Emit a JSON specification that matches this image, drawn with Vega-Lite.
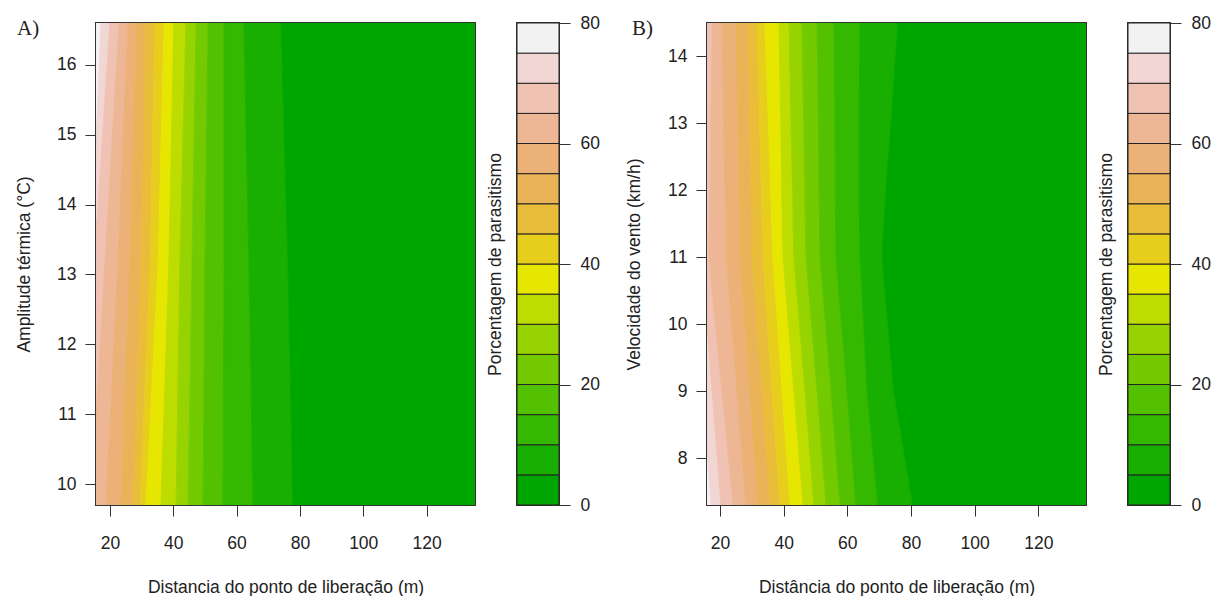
{
  "$schema": "https://vega.github.io/schema/vega-lite/v6.json",
  "autosize": {"type": "pad"},
  "padding": {"left": 14, "top": 13, "right": 5, "bottom": 2},
  "background": "white",
  "bounds": "flush",
  "spacing": 42,
  "config": {
    "font": "Liberation Sans",
    "view": {"stroke": "#333", "strokeWidth": 2},
    "axis": {
      "labelFont": "Liberation Sans", "titleFont": "Liberation Sans",
      "labelFontSize": 17.5, "titleFontSize": 17.5, "titleFontWeight": "normal",
      "labelColor": "#222", "titleColor": "#222", "tickColor": "#333",
      "tickSize": 11, "tickWidth": 1, "domain": false, "grid": false
    },
    "title": {"font": "Liberation Serif", "fontSize": 21, "fontWeight": "normal", "color": "#222"}
  },
  "datasets": {
    "bandsA": [
      {"y":16.6,"b":75,"l":-50,"r":17.2},{"y":16.6,"b":70,"l":17.2,"r":20.0},{"y":16.6,"b":65,"l":20.0,"r":22.9},{"y":16.6,"b":60,"l":22.9,"r":25.7},
      {"y":16.6,"b":55,"l":25.7,"r":28.5},{"y":16.6,"b":50,"l":28.5,"r":31.4},{"y":16.6,"b":45,"l":31.4,"r":34.2},{"y":16.6,"b":40,"l":34.2,"r":37.1},
      {"y":16.6,"b":35,"l":37.1,"r":40.2},{"y":16.6,"b":30,"l":40.2,"r":44.0},{"y":16.6,"b":25,"l":44.0,"r":47.2},{"y":16.6,"b":20,"l":47.2,"r":51.0},
      {"y":16.6,"b":15,"l":51.0,"r":56.0},{"y":16.6,"b":10,"l":56.0,"r":62.3},{"y":16.6,"b":5,"l":62.3,"r":74.0},{"y":16.6,"b":0,"l":74.0,"r":300},
      {"y":13.15,"b":75,"l":-50,"r":14.0},{"y":13.15,"b":70,"l":14.0,"r":15.0},{"y":13.15,"b":65,"l":15.0,"r":18.4},{"y":13.15,"b":60,"l":18.4,"r":22.5},
      {"y":13.15,"b":55,"l":22.5,"r":26.3},{"y":13.15,"b":50,"l":26.3,"r":29.8},{"y":13.15,"b":45,"l":29.8,"r":32.7},{"y":13.15,"b":40,"l":32.7,"r":35.2},
      {"y":13.15,"b":35,"l":35.2,"r":38.6},{"y":13.15,"b":30,"l":38.6,"r":42.1},{"y":13.15,"b":25,"l":42.1,"r":45.9},{"y":13.15,"b":20,"l":45.9,"r":50.0},
      {"y":13.15,"b":15,"l":50.0,"r":56.0},{"y":13.15,"b":10,"l":56.0,"r":63.9},{"y":13.15,"b":5,"l":63.9,"r":76.2},{"y":13.15,"b":0,"l":76.2,"r":300},
      {"y":9.7,"b":75,"l":-50,"r":8},{"y":9.7,"b":70,"l":8,"r":11},{"y":9.7,"b":65,"l":11,"r":14},{"y":9.7,"b":60,"l":14,"r":18.8},
      {"y":9.7,"b":55,"l":18.8,"r":23.5},{"y":9.7,"b":50,"l":23.5,"r":27.3},{"y":9.7,"b":45,"l":27.3,"r":29.5},{"y":9.7,"b":40,"l":29.5,"r":31.4},
      {"y":9.7,"b":35,"l":31.4,"r":36.1},{"y":9.7,"b":30,"l":36.1,"r":40.9},{"y":9.7,"b":25,"l":40.9,"r":44.7},{"y":9.7,"b":20,"l":44.7,"r":49.4},
      {"y":9.7,"b":15,"l":49.4,"r":55.7},{"y":9.7,"b":10,"l":55.7,"r":65.2},{"y":9.7,"b":5,"l":65.2,"r":77.8},{"y":9.7,"b":0,"l":77.8,"r":300}
    ],
    "bandsB": [
      {"y":14.5,"b":75,"l":-50,"r":10},{"y":14.5,"b":70,"l":10,"r":13.1},{"y":14.5,"b":65,"l":13.1,"r":17.5},{"y":14.5,"b":60,"l":17.5,"r":20.6},
      {"y":14.5,"b":55,"l":20.6,"r":25.0},{"y":14.5,"b":50,"l":25.0,"r":28.8},{"y":14.5,"b":45,"l":28.8,"r":31.6},{"y":14.5,"b":40,"l":31.6,"r":34.1},
      {"y":14.5,"b":35,"l":34.1,"r":38.5},{"y":14.5,"b":30,"l":38.5,"r":41.7},{"y":14.5,"b":25,"l":41.7,"r":45.7},{"y":14.5,"b":20,"l":45.7,"r":50.5},
      {"y":14.5,"b":15,"l":50.5,"r":55.8},{"y":14.5,"b":10,"l":55.8,"r":64.0},{"y":14.5,"b":5,"l":64.0,"r":75.9},{"y":14.5,"b":0,"l":75.9,"r":300},
      {"y":13,"b":75,"l":-50,"r":10},{"y":13,"b":70,"l":10,"r":13.6},{"y":13,"b":65,"l":13.6,"r":17.1},{"y":13,"b":60,"l":17.1,"r":21.2},
      {"y":13,"b":55,"l":21.2,"r":25.6},{"y":13,"b":50,"l":25.6,"r":29.3},{"y":13,"b":45,"l":29.3,"r":32.4},{"y":13,"b":40,"l":32.4,"r":35.2},
      {"y":13,"b":35,"l":35.2,"r":39.1},{"y":13,"b":30,"l":39.1,"r":42.3},{"y":13,"b":25,"l":42.3,"r":46.3},{"y":13,"b":20,"l":46.3,"r":50.9},
      {"y":13,"b":15,"l":50.9,"r":56.1},{"y":13,"b":10,"l":56.1,"r":63.7},{"y":13,"b":5,"l":63.7,"r":73.7},{"y":13,"b":0,"l":73.7,"r":300},
      {"y":12,"b":75,"l":-50,"r":10},{"y":12,"b":70,"l":10,"r":14.0},{"y":12,"b":65,"l":14.0,"r":16.8},{"y":12,"b":60,"l":16.8,"r":21.5},
      {"y":12,"b":55,"l":21.5,"r":25.9},{"y":12,"b":50,"l":25.9,"r":29.7},{"y":12,"b":45,"l":29.7,"r":33.0},{"y":12,"b":40,"l":33.0,"r":35.9},
      {"y":12,"b":35,"l":35.9,"r":39.4},{"y":12,"b":30,"l":39.4,"r":42.8},{"y":12,"b":25,"l":42.8,"r":46.6},{"y":12,"b":20,"l":46.6,"r":51.1},
      {"y":12,"b":15,"l":51.1,"r":56.2},{"y":12,"b":10,"l":56.2,"r":63.7},{"y":12,"b":5,"l":63.7,"r":72.1},{"y":12,"b":0,"l":72.1,"r":300},
      {"y":11,"b":75,"l":-50,"r":10},{"y":11,"b":70,"l":10,"r":14.3},{"y":11,"b":65,"l":14.3,"r":16.5},{"y":11,"b":60,"l":16.5,"r":21.9},
      {"y":11,"b":55,"l":21.9,"r":26.3},{"y":11,"b":50,"l":26.3,"r":30.0},{"y":11,"b":45,"l":30.0,"r":33.5},{"y":11,"b":40,"l":33.5,"r":36.6},
      {"y":11,"b":35,"l":36.6,"r":39.8},{"y":11,"b":30,"l":39.8,"r":43.2},{"y":11,"b":25,"l":43.2,"r":47.0},{"y":11,"b":20,"l":47.0,"r":51.4},
      {"y":11,"b":15,"l":51.4,"r":56.4},{"y":11,"b":10,"l":56.4,"r":64.0},{"y":11,"b":5,"l":64.0,"r":70.9},{"y":11,"b":0,"l":70.9,"r":300},
      {"y":9,"b":75,"l":-50,"r":14.6},{"y":9,"b":70,"l":14.6,"r":17.5},{"y":9,"b":65,"l":17.5,"r":20.6},{"y":9,"b":60,"l":20.6,"r":25.3},
      {"y":9,"b":55,"l":25.3,"r":29.4},{"y":9,"b":50,"l":29.4,"r":33.2},{"y":9,"b":45,"l":33.2,"r":36.3},{"y":9,"b":40,"l":36.3,"r":39.5},
      {"y":9,"b":35,"l":39.5,"r":43.2},{"y":9,"b":30,"l":43.2,"r":46.7},{"y":9,"b":25,"l":46.7,"r":50.5},{"y":9,"b":20,"l":50.5,"r":54.9},
      {"y":9,"b":15,"l":54.9,"r":59.9},{"y":9,"b":10,"l":59.9,"r":66.2},{"y":9,"b":5,"l":66.2,"r":74.6},{"y":9,"b":0,"l":74.6,"r":300},
      {"y":7.3,"b":75,"l":-50,"r":17.2},{"y":7.3,"b":70,"l":17.2,"r":20.3},{"y":7.3,"b":65,"l":20.3,"r":24.1},{"y":7.3,"b":60,"l":24.1,"r":28.1},
      {"y":7.3,"b":55,"l":28.1,"r":31.9},{"y":7.3,"b":50,"l":31.9,"r":35.7},{"y":7.3,"b":45,"l":35.7,"r":38.8},{"y":7.3,"b":40,"l":38.8,"r":42.0},
      {"y":7.3,"b":35,"l":42.0,"r":46.1},{"y":7.3,"b":30,"l":46.1,"r":49.5},{"y":7.3,"b":25,"l":49.5,"r":53.3},{"y":7.3,"b":20,"l":53.3,"r":57.7},
      {"y":7.3,"b":15,"l":57.7,"r":62.7},{"y":7.3,"b":10,"l":62.7,"r":69.6},{"y":7.3,"b":5,"l":69.6,"r":80.6},{"y":7.3,"b":0,"l":80.6,"r":300}
    ],
    "key": [
      {"b":0,"h":5},{"b":5,"h":10},{"b":10,"h":15},{"b":15,"h":20},{"b":20,"h":25},{"b":25,"h":30},{"b":30,"h":35},{"b":35,"h":40},
      {"b":40,"h":45},{"b":45,"h":50},{"b":50,"h":55},{"b":55,"h":60},{"b":60,"h":65},{"b":65,"h":70},{"b":70,"h":75},{"b":75,"h":80}
    ]
  },
  "hconcat": [
    {
      "width": 379, "height": 482,
      "title": {"text": "A)", "anchor": "start", "frame": "group", "orient": "top", "offset": 0, "dx": -79, "dy": 33, "baseline": "alphabetic"},
      "data": {"name": "bandsA"},
      "mark": {"type": "area", "orient": "horizontal", "clip": true, "strokeWidth": 0.8},
      "encoding": {
        "y": {"field": "y", "type": "quantitative", "scale": {"domain": [9.7, 16.6], "nice": false, "zero": false},
              "axis": {"values": [10,11,12,13,14,15,16], "title": "Amplitude térmica (°C)", "labelPadding": 9,
                       "titleX": -67, "titleY": 241, "titleAngle": 270, "titleAlign": "center", "titleBaseline": "alphabetic"}},
        "x": {"field": "l", "type": "quantitative", "scale": {"domain": [15.6, 135.3], "nice": false, "zero": false},
              "axis": {"values": [20,40,60,80,100,120], "title": "Distancia do ponto de liberação (m)", "labelPadding": 18, "labelFlush": false,
                       "titleY": 87, "titleBaseline": "alphabetic"}},
        "x2": {"field": "r"},
        "color": {"field": "b", "type": "ordinal", "legend": null,
                  "scale": {"domain": [0,5,10,15,20,25,30,35,40,45,50,55,60,65,70,75],
                            "range": ["#00A600","#19AF00","#35B800","#53C100","#74CA00","#97D300","#BDDC00","#E6E600","#E7CE1D","#E9BD3A","#EAB358","#ECB176","#EDB694","#EFC2B3","#F1D6D3","#F2F2F2"]}},
        "stroke": {"field": "b", "type": "ordinal", "legend": null,
                  "scale": {"domain": [0,5,10,15,20,25,30,35,40,45,50,55,60,65,70,75],
                            "range": ["#00A600","#19AF00","#35B800","#53C100","#74CA00","#97D300","#BDDC00","#E6E600","#E7CE1D","#E9BD3A","#EAB358","#ECB176","#EDB694","#EFC2B3","#F1D6D3","#F2F2F2"]}}
      }
    },
    {
      "width": 42, "height": 482,
      "data": {"name": "key"},
      "mark": {"type": "rect", "stroke": "#222", "strokeWidth": 1},
      "encoding": {
        "y": {"field": "b", "type": "quantitative", "scale": {"domain": [0, 80], "nice": false},
              "axis": {"orient": "right", "values": [0,20,40,60,80], "title": "Porcentagem de parasitismo", "labelPadding": 10,
                       "titleX": -59, "titleY": 241, "titleAngle": 270, "titleAlign": "center", "titleBaseline": "alphabetic"}},
        "y2": {"field": "h"},
        "x": {"datum": 0, "type": "quantitative", "scale": {"domain": [0, 1]}, "axis": null},
        "x2": {"datum": 1},
        "color": {"field": "b", "type": "ordinal", "legend": null,
                  "scale": {"domain": [0,5,10,15,20,25,30,35,40,45,50,55,60,65,70,75],
                            "range": ["#00A600","#19AF00","#35B800","#53C100","#74CA00","#97D300","#BDDC00","#E6E600","#E7CE1D","#E9BD3A","#EAB358","#ECB176","#EDB694","#EFC2B3","#F1D6D3","#F2F2F2"]}}
      }
    },
    {
      "width": 64, "height": 482,
      "view": {"stroke": null},
      "data": {"values": [{}]},
      "mark": {"type": "text", "text": " "},
      "encoding": {}
    },
    {
      "width": 379, "height": 482,
      "title": {"text": "B)", "anchor": "start", "frame": "group", "orient": "top", "offset": 0, "dx": -75, "dy": 33, "baseline": "alphabetic"},
      "data": {"name": "bandsB"},
      "mark": {"type": "area", "orient": "horizontal", "clip": true, "strokeWidth": 0.8},
      "encoding": {
        "y": {"field": "y", "type": "quantitative", "scale": {"domain": [7.3, 14.5], "nice": false, "zero": false},
              "axis": {"values": [8,9,10,11,12,13,14], "title": "Velocidade do vento (km/h)", "labelPadding": 9,
                       "titleX": -68, "titleY": 241, "titleAngle": 270, "titleAlign": "center", "titleBaseline": "alphabetic"}},
        "x": {"field": "l", "type": "quantitative", "scale": {"domain": [15.9, 135.0], "nice": false, "zero": false},
              "axis": {"values": [20,40,60,80,100,120], "title": "Distância do ponto de liberação (m)", "labelPadding": 18, "labelFlush": false,
                       "titleY": 87, "titleBaseline": "alphabetic"}},
        "x2": {"field": "r"},
        "color": {"field": "b", "type": "ordinal", "legend": null,
                  "scale": {"domain": [0,5,10,15,20,25,30,35,40,45,50,55,60,65,70,75],
                            "range": ["#00A600","#19AF00","#35B800","#53C100","#74CA00","#97D300","#BDDC00","#E6E600","#E7CE1D","#E9BD3A","#EAB358","#ECB176","#EDB694","#EFC2B3","#F1D6D3","#F2F2F2"]}},
        "stroke": {"field": "b", "type": "ordinal", "legend": null,
                  "scale": {"domain": [0,5,10,15,20,25,30,35,40,45,50,55,60,65,70,75],
                            "range": ["#00A600","#19AF00","#35B800","#53C100","#74CA00","#97D300","#BDDC00","#E6E600","#E7CE1D","#E9BD3A","#EAB358","#ECB176","#EDB694","#EFC2B3","#F1D6D3","#F2F2F2"]}}
      }
    },
    {
      "width": 42, "height": 482,
      "data": {"name": "key"},
      "mark": {"type": "rect", "stroke": "#222", "strokeWidth": 1},
      "encoding": {
        "y": {"field": "b", "type": "quantitative", "scale": {"domain": [0, 80], "nice": false},
              "axis": {"orient": "right", "values": [0,20,40,60,80], "title": "Porcentagem de parasitismo", "labelPadding": 10,
                       "titleX": -59, "titleY": 241, "titleAngle": 270, "titleAlign": "center", "titleBaseline": "alphabetic"}},
        "y2": {"field": "h"},
        "x": {"datum": 0, "type": "quantitative", "scale": {"domain": [0, 1]}, "axis": null},
        "x2": {"datum": 1},
        "color": {"field": "b", "type": "ordinal", "legend": null,
                  "scale": {"domain": [0,5,10,15,20,25,30,35,40,45,50,55,60,65,70,75],
                            "range": ["#00A600","#19AF00","#35B800","#53C100","#74CA00","#97D300","#BDDC00","#E6E600","#E7CE1D","#E9BD3A","#EAB358","#ECB176","#EDB694","#EFC2B3","#F1D6D3","#F2F2F2"]}}
      }
    }
  ]
}
